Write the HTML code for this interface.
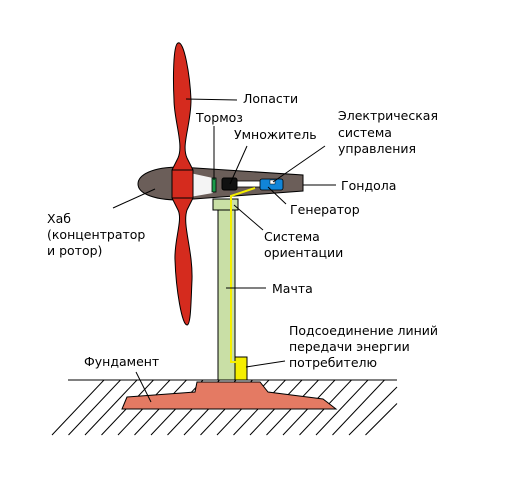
<!DOCTYPE html>
<html><head><meta charset="utf-8"><style>
html,body{margin:0;padding:0;background:#fff;}
svg text{font-family:"DejaVu Sans","Liberation Sans",sans-serif;font-size:12.5px;fill:#000;}
</style></head><body>
<svg width="510" height="494" viewBox="0 0 510 494">
<g stroke="#000" stroke-width="1">
<line x1="68" y1="380" x2="397" y2="380"/>
<g id="h"></g>
</g>
<polygon points="127,397 122,409 336,409 323,399 268,392 260,382 197,382 195,392" fill="#e47a63" stroke="#000" stroke-width="1"/>
<rect x="218" y="208" width="17" height="172" fill="#c9dfa6" stroke="#000" stroke-width="1"/>
<rect x="213" y="199" width="25" height="11" fill="#c9dfa6" stroke="#000" stroke-width="1"/>
<rect x="235" y="357" width="12" height="23" fill="#f5ee00" stroke="#000" stroke-width="1"/>
<path d="M180,167 L303,175 L303,191 L180,200 C150,200 138,192 138,184 C138,175 152,167 180,167 Z" fill="#6b5e59" stroke="#000" stroke-width="1"/>
<polygon points="190,173 213,178 213,193 190,197" fill="#f4f4f4"/>
<rect x="236" y="181" width="25" height="6" fill="#fff" stroke="#000" stroke-width="0.8"/>
<rect x="212" y="178" width="4" height="14" fill="#1a9a4a" stroke="#000" stroke-width="0.8"/>
<rect x="222" y="178" width="15" height="12" rx="2" fill="#111" stroke="#000"/>
<rect x="260" y="179" width="23" height="11" rx="2" fill="#1185d8" stroke="#000" stroke-width="0.8"/>
<rect x="270" y="180" width="5" height="4" fill="#fff" stroke="#000" stroke-width="0.5"/>
<polyline points="255,188 231,196 231,362 237,362" fill="none" stroke="#f5ee00" stroke-width="2"/>
<path d="M178,43 C184,40 190,75 191,100 C191,125 181,145 187,158 L193,170 L193,198 L187,210 C182,225 193,250 192,280 C191,300 191,325 187,325 C182,325 176,290 175,260 C174,240 183,220 178,210 L172,198 L172,170 L178,158 C184,145 174,120 174,100 C173,80 173,45 178,43 Z" fill="#d52b1e" stroke="#000" stroke-width="1"/>
<line x1="172" y1="170" x2="193" y2="170" stroke="#000"/>
<line x1="172" y1="198" x2="193" y2="198" stroke="#000"/>
<g stroke="#000" stroke-width="1">
<line x1="186" y1="99" x2="237" y2="100"/>
<line x1="214" y1="180" x2="214" y2="126"/>
<line x1="230" y1="184" x2="247" y2="146"/>
<line x1="273" y1="182" x2="325" y2="146"/>
<line x1="303" y1="185" x2="336" y2="185"/>
<line x1="268" y1="187" x2="286" y2="204"/>
<line x1="113" y1="208" x2="155" y2="189"/>
<line x1="234" y1="205" x2="263" y2="230"/>
<line x1="226" y1="288" x2="266" y2="288"/>
<line x1="246" y1="367" x2="285" y2="361"/>
<line x1="136" y1="372" x2="151" y2="402"/>
</g>
<text x="243" y="103">Лопасти</text>
<text x="196" y="122">Тормоз</text>
<text x="234" y="139">Умножитель</text>
<text x="338" y="120">Электрическая</text>
<text x="338" y="137">система</text>
<text x="338" y="153">управления</text>
<text x="341" y="190">Гондола</text>
<text x="290" y="214">Генератор</text>
<text x="47" y="223">Хаб</text>
<text x="47" y="239">(концентратор</text>
<text x="47" y="255">и ротор)</text>
<text x="264" y="241">Система</text>
<text x="264" y="257">ориентации</text>
<text x="272" y="293">Мачта</text>
<text x="289" y="335">Подсоединение линий</text>
<text x="289" y="351">передачи энергии</text>
<text x="289" y="367">потребителю</text>
<text x="84" y="366">Фундамент</text>
</svg>
<script>
var g=document.getElementById('h');
for(var x=52;x<=380;x+=16.5){
  var x1=x,y1=435,x2=x+52,y2=380;
  if(x2>397){y2=435-(397-x1);x2=397;}
  var l=document.createElementNS('http://www.w3.org/2000/svg','line');
  
  
  l.setAttribute('x1',x1);l.setAttribute('y1',y1);l.setAttribute('x2',x2);l.setAttribute('y2',y2);
  g.appendChild(l);
}
</script>
</body></html>
